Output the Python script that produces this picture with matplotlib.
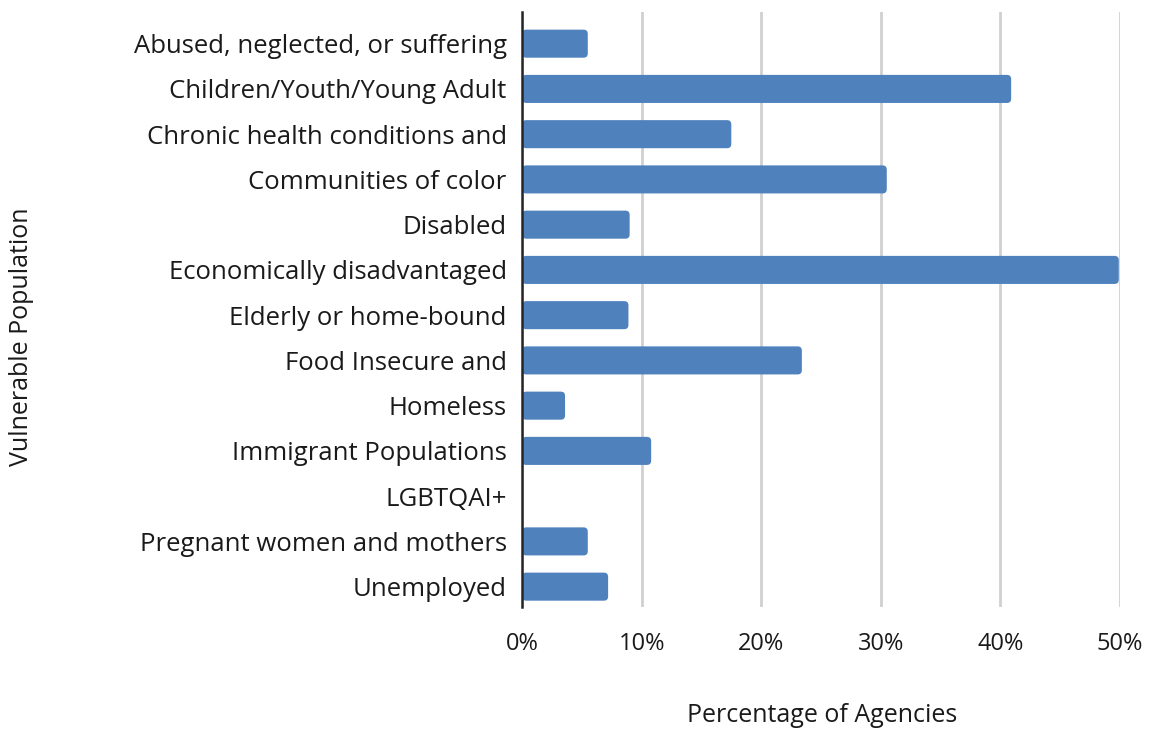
import matplotlib
matplotlib.use("Agg")
import matplotlib.pyplot as plt
from matplotlib.patches import FancyBboxPatch
from matplotlib.ticker import FuncFormatter

categories = [
    "Abused, neglected, or suffering",
    "Children/Youth/Young Adult",
    "Chronic health conditions and",
    "Communities of color",
    "Disabled",
    "Economically disadvantaged",
    "Elderly or home-bound",
    "Food Insecure and",
    "Homeless",
    "Immigrant Populations",
    "LGBTQAI+",
    "Pregnant women and mothers",
    "Unemployed",
]
values = [5.5, 40.9, 17.5, 30.5, 9.0, 49.9, 8.9, 23.4, 3.6, 10.8, 0.0, 5.5, 7.2]
xticks = [0, 10, 20, 30, 40, 50]

plt.rcParams['font.family'] = ['Open Sans', 'DejaVu Sans']
color = "#4F81BD"
textc = "#1a1a1a"

fig = plt.figure(figsize=(11.49, 7.29), dpi=100)
ax = fig.add_axes([522/1149, 1-607/729, (1120-522)/1149, (607-12)/729])

ypos = list(range(len(categories)))
bars = ax.barh(ypos, values, height=0.62, color=color)
# replace with rounded bars
for b in bars:
    x0, y0 = b.get_x(), b.get_y()
    w, h = b.get_width(), b.get_height()
    b.set_visible(False)
    if w <= 0:
        continue
    p = FancyBboxPatch((x0, y0), w, h,
                       boxstyle="round,pad=0,rounding_size=0.35",
                       mutation_aspect=0.27, facecolor=color, edgecolor="none", zorder=3)
    ax.add_patch(p)

ax.set_xlim(0, 50)
ax.set_ylim(12.45, -0.7)
ax.set_yticks(ypos)
ax.set_yticklabels(categories, fontsize=18.5, color=textc)
ax.set_xticks(xticks)
ax.xaxis.set_major_formatter(FuncFormatter(lambda v, p: f"{int(v)}%"))
ax.tick_params(axis='x', labelsize=17, length=0, pad=18, colors=textc)
ax.tick_params(axis='y', length=0, pad=11)
ax.grid(axis='x', color="#D0D0D0", linewidth=2)
ax.set_axisbelow(True)
for s in ["top", "right", "bottom"]:
    ax.spines[s].set_visible(False)
ax.spines["left"].set_color("#262626")
ax.spines["left"].set_linewidth(1.8)
ax.spines["left"].set_zorder(4)

fig.text(822/1149, 1-716/729, "Percentage of Agencies", ha="center", va="center", fontsize=18, color=textc)
fig.text(22/1149, 1-337/729, "Vulnerable Population", ha="center", va="center", rotation=90, fontsize=18, color=textc)

fig.savefig("out.png", dpi=100)
